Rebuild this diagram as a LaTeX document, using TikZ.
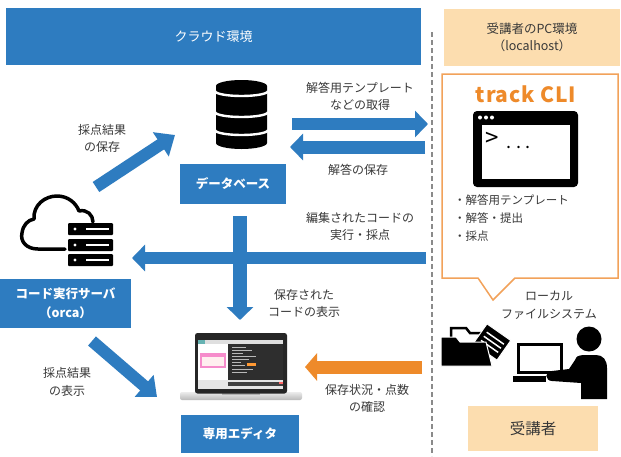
\documentclass[tikz,border=0pt]{standalone}
\usepackage{fontspec}
\setmainfont{Noto Sans CJK JP}
\usetikzlibrary{arrows.meta}
\definecolor{cblue}{HTML}{2E7CC0}
\definecolor{cpeach}{HTML}{FCDDAF}
\definecolor{corange}{HTML}{EE8A2A}
\definecolor{cline}{HTML}{F2A25A}
\definecolor{ctext}{HTML}{383838}
\definecolor{cdash}{HTML}{8A8A8A}
\begin{document}
\begin{tikzpicture}[x=1pt,y=-1pt,
  bluebox/.style={fill=cblue,text=white,font=\bfseries\fontsize{12.5}{19}\selectfont,align=center,inner sep=0pt},
  peachbox/.style={fill=cpeach,text=ctext,align=center,inner sep=0pt},
  lbl/.style={text=ctext,font=\fontsize{12}{17.5}\selectfont,align=center,inner sep=0pt},
  fatarrow/.style={draw=cblue,line width=12pt,-{Triangle[width=26pt,length=13pt]}},
]
\fill[white] (0,0) rectangle (621,456);
\useasboundingbox (0,0) rectangle (621,456);

% ---------- headers ----------
\node[fill=cblue,text=white,font=\fontsize{13}{16}\selectfont,minimum width=415pt,minimum height=57pt,inner sep=0pt]
  (cloudhdr) at (213.5,36.5) {クラウド環境};
\node[peachbox,font=\fontsize{12.5}{17.5}\selectfont,minimum width=176pt,minimum height=57pt]
  (pchdr) at (532,37.5) {受講者のPC環境\\（localhost）};

% separator
\coordinate (sepT) at (432,32);
\coordinate (sepB) at (432,456);
\draw[cdash,line width=2pt,dash pattern=on 5pt off 3pt] (sepT) -- (sepB);

% ---------- track CLI callout ----------
\draw[cline,line width=1.5pt,fill=white,line join=miter]
  (442,74) -- (618,74) -- (618,278) -- (515,278) -- (493,300) -- (478,278) -- (442,278) -- cycle;
\node[text=corange,font=\bfseries\fontsize{21}{24}\selectfont\addfontfeature{LetterSpace=4},inner sep=0pt,anchor=base]
  (cli) at (526,102) {track CLI};
% terminal window
\fill[black,rounded corners=4pt] (473,111) rectangle (578,187);
\fill[white] (482,125) rectangle (570,179);
\foreach \dx in {480,486,492} \fill[white] (\dx,117.5) circle (2pt);
\node[font=\fontsize{24}{26}\selectfont,inner sep=0pt] (prompt) at (492,139) {>};
\node[font=\fontsize{18}{20}\selectfont,inner sep=0pt,anchor=base] (dots) at (518.5,148) {.\hspace{4.5pt}.\hspace{4.5pt}.};
\node[lbl,align=left,anchor=north west,font=\fontsize{11.5}{18.2}\selectfont] (feat) at (454,194)
  {・解答用テンプレート\\・解答・提出\\・採点};

% ---------- database ----------
\fill[black] (216,86) -- (216,143) arc[start angle=180,end angle=360,x radius=25.5pt,y radius=6pt]
  -- (267,86) arc[start angle=0,end angle=180,x radius=25.5pt,y radius=6pt] -- cycle;
\foreach \yy in {91,112,130}
  \draw[white,line width=2.4pt] (215,\yy) arc[start angle=180,end angle=360,x radius=26.5pt,y radius=5pt];
\coordinate (dbicon) at (241.5,115);
\node[bluebox,minimum width=106pt,minimum height=40pt] (db) at (233,184) {データベース};

% ---------- code execution server ----------
\draw[line width=3.5pt,line cap=round,line join=round]
  (65,249) -- (38,249) .. controls (26,249) and (20,241) .. (22,233)
  .. controls (23,225) and (28,220) .. (34,219)
  .. controls (33,205) and (45,196) .. (57,196)
  .. controls (68,196) and (76,203) .. (79,211)
  .. controls (87,209) and (93,215) .. (93,222);
\foreach \yt in {223,239,254}{
  \fill[black,rounded corners=1pt] (68,\yt) rectangle (113,\yt+12);
  \fill[white] (75,\yt+6) circle (1.6pt);
  \fill[white] (86,\yt+4.8) rectangle (109,\yt+7.2);
}
\node[bluebox,minimum width=131pt,minimum height=49pt] (orca) at (65.5,303.5) {コード実行サーバ\\（orca）};

% ---------- editor (laptop) ----------
\shade[top color=gray!15,bottom color=gray!55,rounded corners=2pt] (180,392) rectangle (302,400);
\fill[gray!60] (222,392) rectangle (260,394.5);
\fill[black!85,rounded corners=2.5pt] (195,333) rectangle (287,393.5);
\fill[white] (198,340) rectangle (283,389);
\fill[gray!25] (198,340) rectangle (283,343.5);
\fill[teal!60] (198,340) rectangle (205,343.5);
\fill[black!82] (228,343.5) rectangle (283,380);
\fill[pink!25,draw=magenta!45,line width=1.2pt] (201,354) rectangle (225,367);
\fill[magenta!45] (201,354) rectangle (225,357);
\foreach \yy/\ll in {347/14,350/20,353/11,356/24,359/17,362/9,365/13,369/21,372/15}
  \draw[gray!55,line width=0.5pt] (232,\yy) -- ({232+\ll},\yy);
\fill[orange!80] (247,363) rectangle (256,366);
\fill[gray!20] (198,380) rectangle (283,389);
\fill[black!75] (228,382) rectangle (283,386);
\fill[red!60] (279,382) rectangle (283,384);
\coordinate (laptop) at (241,366);
\node[bluebox,minimum width=118pt,minimum height=38pt] (editor) at (240,434) {専用エディタ};

% ---------- learner side icons ----------
% folder: back tab, tilted sheet, front flap
\draw[line width=2.5pt,line join=miter] (451,338) -- (451,328) -- (466,328) -- (470,333) -- (482,333) -- (482,342);
\begin{scope}[shift={(492,342)},rotate=-35]
  \fill[black,draw=white,line width=1pt] (-14.5,-12) rectangle (14.5,12);
  \foreach \yy in {-5,0,5}
    \draw[white,line width=1.5pt] (-10,\yy) -- (11,\yy);
\end{scope}
\fill[black,draw=white,line width=1pt] (441,337) -- (456,337) -- (460,342) -- (486,342) -- (492,366) -- (441,366) -- cycle;
% learner at computer
\draw[line width=3.5pt] (518.5,344.5) rectangle (561.5,372.5);
\fill (513,376) rectangle (546,382);
\fill (589,339) circle (12.5pt);
\fill (583,355) -- (596,355) .. controls (603,355) and (607,360) .. (607,368) -- (607,399)
  -- (581,399) -- (581,383) -- (552,381) .. controls (545,381) and (544,371) .. (552,371)
  -- (569,369) -- (575,360) .. controls (577,356) .. cycle;
\coordinate (learnerIcon) at (560,360);
\node[lbl] (localfs) at (549,305) {ローカル\\ファイルシステム};
\node[peachbox,font=\fontsize{15.5}{18}\selectfont,minimum width=130pt,minimum height=45pt] (learner) at (533,428.5) {受講者};

% ---------- arrows ----------
\coordinate (tplS) at (292,124);  \coordinate (tplE) at (428,124);
\coordinate (ansS) at (425,147);  \coordinate (ansE) at (290,147);
\coordinate (runS) at (426,258);  \coordinate (runE) at (132,258);
\coordinate (showS) at (240,216); \coordinate (showE) at (240,320);
\coordinate (saveS) at (96,187);  \coordinate (saveE) at (175,135);
\coordinate (resS) at (92,341);   \coordinate (resE) at (157,397);
\coordinate (statS) at (422,367); \coordinate (statE) at (305,367);

\draw[fatarrow] (tplS) -- (tplE);
\draw[fatarrow,line width=13pt] (ansS) -- (ansE);
\draw[fatarrow] (runS) -- (runE);
\draw[fatarrow,line width=14pt,-{Triangle[width=26pt,length=13pt]}] (showS) -- (showE);
\draw[fatarrow,-{Triangle[width=28pt,length=17pt]}] (saveS) -- (saveE);
\draw[fatarrow,-{Triangle[width=28pt,length=17pt]}] (resS) -- (resE);
\draw[fatarrow,draw=corange,line width=13pt,-{Triangle[width=27pt,length=12pt]}] (statS) -- (statE);

% ---------- labels ----------
\node[lbl] (lSave) at (102,138.5) {採点結果\\の保存};
\node[lbl] (lTpl) at (360,96.5) {解答用テンプレート\\などの取得};
\node[lbl] (lAns) at (358,170) {解答の保存};
\node[lbl] (lRun) at (360,226.5) {編集されたコードの\\実行・採点};
\node[lbl] (lShow) at (304,303.5) {保存された\\コードの表示};
\node[lbl] (lRes) at (67,382) {採点結果\\の表示};
\node[lbl] (lStat) at (367,398.5) {保存状況・点数\\の確認};
\end{tikzpicture}
\end{document}
